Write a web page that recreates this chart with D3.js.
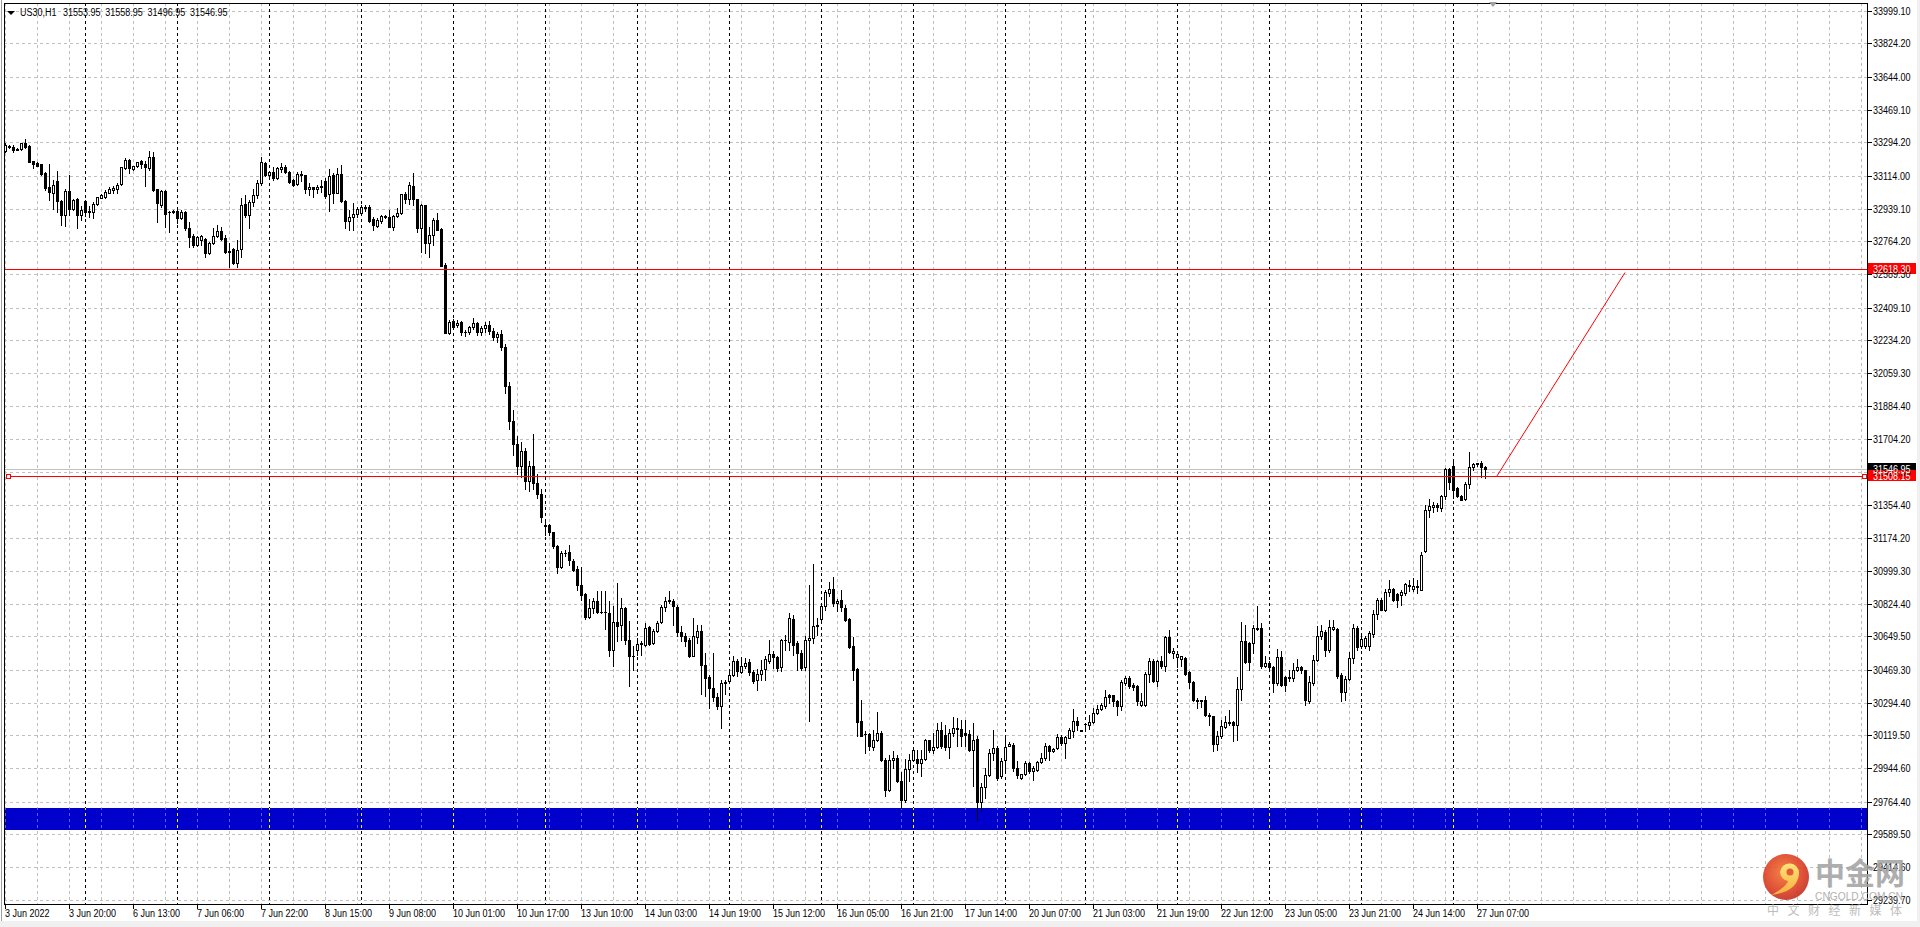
<!DOCTYPE html>
<html><head><meta charset="utf-8">
<script src="https://cdn.jsdelivr.net/npm/d3@7"></script>
<style>
html,body{margin:0;padding:0;background:#fff;overflow:hidden}
svg{display:block}
text{font-family:"Liberation Sans",Arial,sans-serif;font-size:11px}
</style></head><body>
<script>
// ---------------- DATA ----------------
const symbolTitle = "US30,H1";
const headerValues = ["31553.95","31558.95","31496.95","31546.95"];
// trading sessions: [day, first hour, last hour]
const sessions = [["3 Jun",4,23],["6 Jun",1,23],["7 Jun",1,23],["8 Jun",1,23],["9 Jun",1,23],["10 Jun",1,23],
  ["13 Jun",1,23],["14 Jun",1,23],["15 Jun",1,23],["16 Jun",1,23],["17 Jun",1,23],["20 Jun",1,20],
  ["21 Jun",1,23],["22 Jun",1,23],["23 Jun",1,23],["24 Jun",1,23],["27 Jun",1,9]];
const firstLabel = "3 Jun 2022";
const timeTickLabels = ["3 Jun 2022","3 Jun 20:00","6 Jun 13:00","7 Jun 06:00","7 Jun 22:00","8 Jun 15:00","9 Jun 08:00",
  "10 Jun 01:00","10 Jun 17:00","13 Jun 10:00","14 Jun 03:00","14 Jun 19:00","15 Jun 12:00","16 Jun 05:00","16 Jun 21:00",
  "17 Jun 14:00","20 Jun 07:00","21 Jun 03:00","21 Jun 19:00","22 Jun 12:00","23 Jun 05:00","23 Jun 21:00","24 Jun 14:00","27 Jun 07:00"];
const priceTickLabels = ["33999.10","33824.20","33644.00","33469.10","33294.20","33114.00","32939.10","32764.20","32589.30",
  "32409.10","32234.20","32059.30","31884.40","31704.20","31529.30","31354.40","31174.20","30999.30","30824.40","30649.50",
  "30469.30","30294.40","30119.50","29944.60","29764.40","29589.50","29414.60","29239.70"];

const opens = [33248,33276,33271,33257,33257,33292,33274,33194,33182,33176,
33132,33057,33021,33087,32982,32905,33034,32937,32989,32905,
32980,32929,32920,32964,32998,33003,33025,33039,33044,33069,
33155,33200,33153,33167,33194,33176,33159,33217,33043,32959,
33034,32923,32923,32927,32887,32923,32838,32793,32745,32772,
32775,32700,32754,32793,32820,32784,32709,32722,32647,32722,
32964,32905,32977,33012,33075,33182,33119,33137,33101,33151,
33160,33134,33093,33069,33126,33118,33046,33055,33043,33055,
33089,33016,33119,33025,33125,32982,32875,32893,32909,32918,
32946,32950,32882,32848,32875,32900,32893,32843,32900,32914,
33018,32989,33062,32989,32838,32957,32754,32798,32879,32830,
32638,32272,32340,32315,32331,32281,32278,32303,32326,32281,
32300,32318,32285,32250,32270,32200,31990,31800,31680,31560,
31640,31480,31560,31470,31410,31243,31243,31207,31134,31018,
31095,31100,31054,31009,30926,30877,30753,30801,30840,30780,
30779,30774,30574,30726,30708,30801,30631,30545,30574,30610,
30604,30699,30613,30676,30724,30806,30840,30836,30806,30671,
30653,30628,30546,30644,30679,30498,30430,30373,30323,30275,
30399,30412,30444,30519,30458,30492,30512,30458,30414,30449,
30474,30515,30555,30539,30483,30628,30617,30742,30613,30560,
30483,30628,30640,30706,30744,30810,30882,30902,30827,30845,
30801,30744,30596,30474,30198,30127,30127,30057,30096,30132,
29989,29825,29989,29998,29873,29775,29939,29986,29993,29971,
29993,30093,30043,30057,30150,30123,30057,30132,30159,30154,
30132,30128,30039,30100,29761,29841,29909,30025,30052,29900,
29989,30064,30070,29945,29891,29915,29971,29927,29936,29977,
29998,30061,30034,30052,30111,30079,30105,30144,30198,30146,
30180,30177,30191,30239,30260,30278,30334,30334,30301,30278,
30400,30424,30391,30385,30284,30284,30448,30519,30408,30519,
30489,30646,30560,30537,30528,30531,30457,30405,30310,30301,
30307,30230,30221,30075,30114,30164,30183,30189,30177,30369,
30626,30613,30613,30690,30696,30489,30507,30485,30400,30539,
30432,30426,30426,30471,30485,30467,30301,30400,30521,30653,
30671,30578,30688,30688,30444,30350,30421,30533,30694,30599,
30596,30599,30663,30769,30845,30792,30886,30902,30877,30872,
30881,30924,30904,30913,30899,31104,31327,31341,31352,31336,
31403,31544,31562,31443,31402,31384,31466,31555,31576,31576,
31553.95];
const highs = [33289,33280,33280,33262,33292,33310,33278,33196,33187,33178,
33134,33178,33093,33141,32986,33043,33119,32989,32998,32953,
32986,32953,32977,33003,33016,33039,33053,33060,33075,33164,
33210,33203,33167,33191,33200,33196,33248,33244,33046,33039,
33039,32929,32932,32941,32932,32929,32870,32804,32793,32798,
32781,32760,32838,32852,32843,32798,32754,32730,32772,32994,
33012,32986,33043,33093,33214,33187,33137,33164,33160,33182,
33173,33139,33096,33137,33142,33121,33075,33057,33066,33093,
33101,33150,33128,33159,33173,32986,32932,32968,32946,32959,
32959,32959,32896,32887,32905,32905,32932,32905,32941,33018,
33030,33084,33128,32992,32964,32960,32843,32887,32914,32835,
32647,32344,32347,32344,32337,32290,32312,32353,32330,32312,
32330,32335,32300,32280,32290,32215,32010,31860,31720,31690,
31660,31590,31730,31520,31440,31273,31252,31210,31140,31104,
31109,31140,31063,31024,31020,30880,30849,30854,30893,30893,
30890,30836,30810,30934,30854,30806,30729,30596,30640,30622,
30720,30706,30688,30729,30819,30858,30890,30849,30819,30703,
30667,30640,30747,30712,30712,30560,30444,30560,30346,30417,
30417,30474,30542,30528,30539,30533,30528,30471,30474,30524,
30542,30631,30569,30546,30635,30658,30774,30765,30622,30578,
30649,30926,31036,30747,30818,30899,30938,30966,30849,30899,
30818,30747,30646,30480,30310,30141,30132,30146,30243,30141,
29998,30016,30034,30016,29922,29993,30021,30052,30043,30043,
30100,30096,30132,30185,30189,30176,30154,30217,30212,30203,
30203,30150,30185,30114,29865,29945,30046,30150,30061,29998,
30114,30082,30079,29980,29915,29980,29975,29954,29980,30025,
30079,30070,30050,30128,30123,30118,30159,30260,30218,30148,
30186,30230,30266,30284,30292,30364,30342,30337,30310,30417,
30435,30439,30400,30391,30346,30457,30533,30528,30524,30546,
30653,30681,30587,30564,30546,30537,30462,30408,30319,30307,
30328,30239,30225,30141,30203,30225,30253,30194,30432,30724,
30712,30617,30712,30813,30721,30542,30515,30489,30581,30569,
30439,30471,30507,30528,30492,30471,30435,30551,30706,30712,
30685,30738,30738,30694,30453,30435,30564,30717,30703,30653,
30653,30676,30792,30854,30854,30902,30949,30908,30884,30899,
30935,30952,30961,30952,31102,31352,31384,31371,31362,31407,
31550,31550,31591,31448,31407,31473,31637,31576,31580,31587,
31558.95];
const lows = [33241,33265,33242,33253,33253,33265,33189,33155,33165,33119,
33039,32986,32939,32923,32852,32846,32905,32930,32838,32879,
32902,32896,32891,32957,32994,32994,33021,33021,33021,33066,
33151,33128,33146,33164,33155,33062,33146,33035,32870,32950,
32843,32816,32914,32861,32882,32825,32732,32732,32740,32745,
32679,32695,32750,32789,32772,32700,32629,32640,32625,32682,
32896,32834,32953,32994,33066,33115,33110,33093,33096,33137,
33132,33075,33060,33066,33089,33025,33012,33003,33021,33030,
32994,32927,32968,33021,32977,32834,32825,32825,32896,32914,
32929,32870,32822,32839,32861,32891,32839,32825,32893,32911,
32968,32964,32959,32813,32709,32704,32679,32745,32822,32633,
32272,32269,32294,32308,32260,32255,32269,32297,32264,32262,
32280,32270,32235,32225,32180,31950,31760,31620,31520,31500,
31440,31430,31440,31390,31260,31193,31193,31122,30988,31015,
31081,31033,31000,30899,30845,30742,30747,30774,30774,30774,
30688,30546,30492,30622,30628,30610,30382,30471,30551,30551,
30599,30604,30610,30672,30720,30783,30827,30712,30653,30622,
30596,30539,30542,30613,30342,30328,30266,30301,30260,30159,
30342,30399,30435,30435,30453,30480,30444,30399,30364,30417,
30417,30506,30480,30462,30462,30574,30574,30551,30467,30467,
30467,30194,30613,30658,30738,30792,30863,30810,30783,30783,
30729,30587,30414,30118,30114,30025,30043,30043,30087,29980,
29797,29820,29945,29868,29731,29761,29873,29980,29922,29900,
29989,30029,30025,30052,30052,30043,30000,30114,30061,30061,
30061,30034,29847,29668,29713,29784,29900,29989,29882,29891,
29936,30061,29927,29891,29885,29909,29920,29882,29930,29971,
29989,29989,30030,30046,30070,29998,30105,30111,30150,30142,
30141,30153,30186,30235,30257,30266,30292,30275,30230,30257,
30391,30373,30364,30284,30275,30275,30403,30403,30385,30480,
30462,30560,30533,30485,30489,30444,30373,30301,30266,30269,
30221,30173,30034,30039,30105,30159,30177,30087,30096,30310,
30507,30471,30560,30685,30480,30485,30471,30350,30391,30382,
30355,30408,30408,30462,30453,30284,30292,30391,30515,30635,
30546,30564,30685,30426,30301,30310,30417,30507,30578,30587,
30587,30578,30646,30742,30788,30783,30863,30836,30806,30819,
30872,30890,30890,30881,30895,31102,31286,31313,31318,31318,
31384,31437,31389,31398,31377,31380,31443,31541,31562,31505,
31496.95];
const closes = [33280,33267,33253,33255,33289,33267,33191,33176,33169,33123,
33048,33027,33066,32982,32905,33034,32937,32986,32905,32932,
32923,32920,32964,33000,33011,33028,33044,33050,33066,33160,
33200,33155,33167,33187,33176,33160,33217,33039,32968,33035,
32911,32923,32925,32887,32923,32834,32789,32745,32789,32793,
32700,32754,32793,32820,32777,32709,32712,32647,32718,32959,
32905,32977,33012,33075,33187,33119,33134,33101,33155,33160,
33134,33080,33066,33123,33118,33046,33057,33044,33057,33060,
33009,33114,33021,33125,32982,32875,32893,32909,32936,32946,
32941,32875,32852,32879,32900,32896,32843,32900,32914,33016,
32989,33066,32989,32838,32957,32754,32798,32879,32825,32633,
32272,32331,32308,32326,32280,32281,32303,32326,32281,32300,
32318,32285,32250,32270,32200,31990,31800,31680,31560,31640,
31480,31560,31470,31410,31290,31240,31206,31131,31018,31095,
31095,31056,31006,30926,30872,30753,30801,30840,30778,30779,
30780,30574,30726,30703,30801,30631,30542,30546,30610,30612,
30694,30610,30679,30720,30806,30840,30842,30810,30671,30649,
30622,30542,30649,30679,30498,30426,30373,30325,30275,30399,
30403,30444,30519,30462,30492,30507,30458,30408,30449,30471,
30528,30555,30539,30480,30628,30631,30747,30604,30560,30480,
30628,30640,30706,30708,30810,30885,30902,30827,30840,30804,
30738,30590,30471,30189,30118,30127,30061,30096,30132,29989,
29829,29989,29998,29873,29775,29939,29986,30043,29971,29993,
30093,30043,30057,30150,30061,30057,30132,30159,30154,30114,
30123,30039,30096,29761,29841,29909,30025,30050,29891,29980,
30057,30075,29945,29909,29915,29971,29927,29945,29977,29998,
30061,30034,30046,30111,30079,30111,30150,30198,30177,30144,
30180,30191,30239,30260,30280,30325,30325,30301,30275,30405,
30424,30382,30378,30301,30301,30449,30519,30408,30519,30489,
30646,30564,30573,30556,30542,30448,30405,30307,30301,30307,
30230,30221,30075,30118,30168,30189,30191,30177,30369,30626,
30510,30510,30694,30696,30489,30507,30485,30400,30539,30387,
30387,30432,30471,30485,30467,30307,30405,30524,30653,30676,
30578,30699,30699,30435,30350,30421,30533,30694,30590,30635,
30642,30667,30769,30845,30792,30886,30902,30845,30845,30886,
30931,30917,30920,30920,31084,31327,31345,31355,31341,31403,
31544,31473,31434,31402,31380,31466,31555,31573,31573,31555,
31546.95];

const resistanceLevel = 32618.30;         // horizontal line
const supportLevel = 31508.15;            // horizontal trend segment
const supportSpan = [0.7, 464.7];         // bar-index anchors of the segment
const bidPrice = 31546.95;
const zoneRange = [29613, 29731];         // blue rectangle
const arrowStart = [373, 31508.15];       // [bar index, price]
const arrowEnd = [405, 32597];

// ---------------- LAYOUT ----------------
const W = 1920, H = 927;
const L = 4, T = 3, R = 1867, B = 904;
const SX = 0.82; // horizontal squeeze to mimic the narrow terminal font
const svg = d3.select("body").append("svg").attr("width", W).attr("height", H);

const times = [];
const dayStarts = [];
sessions.forEach(([day, h0, h1], k) => {
  if (k > 0) dayStarts.push(times.length);
  for (let h = h0; h <= h1; h++) times.push(day + " " + String(h).padStart(2, "0") + ":00");
});

const x = d3.scaleLinear().domain([0, 465.5]).range([5, R]);
const y = d3.scaleLinear().domain([+priceTickLabels[priceTickLabels.length - 1], +priceTickLabels[0]]).range([899.7, 10.6]);
const px = i => Math.round(x(i)) + 0.5;
const py = v => Math.round(y(v)) + 0.5;
const tr = (xx, yy) => `translate(${xx},${yy}) scale(${SX},1)`;

// background & window chrome
svg.append("rect").attr("width", W).attr("height", H).attr("fill", "#fff");
svg.append("rect").attr("x", 0).attr("y", 921).attr("width", W).attr("height", 6).attr("fill", "#f0f0f0");
svg.append("rect").attr("x", 1917).attr("y", 0).attr("width", 3).attr("height", H).attr("fill", "#f0f0f0");
svg.append("line").attr("x1", 1.5).attr("x2", 1.5).attr("y1", 0).attr("y2", 921).attr("stroke", "#a0a0a0");

const crisp = svg.append("g").attr("shape-rendering", "crispEdges");
const defs = svg.append("defs");

// blue zone
const zTop = Math.round(y(zoneRange[1])), zBot = Math.round(y(zoneRange[0]));
crisp.append("rect").attr("x", L + 1).attr("y", zTop).attr("width", R - L - 1).attr("height", zBot - zTop).attr("fill", "#0000cd");

// grid
crisp.append("g").selectAll("line").data(priceTickLabels).join("line")
  .attr("x1", L).attr("x2", R).attr("y1", d => py(+d)).attr("y2", d => py(+d))
  .attr("stroke", "#c0c0c0").attr("stroke-dasharray", "3,3");

const vIdx = d3.range(0, 466, 8);
defs.append("clipPath").attr("id", "zoneClip")
  .append("rect").attr("x", L + 1).attr("y", zTop).attr("width", R - L - 1).attr("height", zBot - zTop);
function vGrid(color, sepColor, clip) {
  const g = crisp.append("g");
  if (clip) g.attr("clip-path", "url(#zoneClip)");
  g.selectAll("line.g").data(vIdx).join("line").attr("class", "g")
    .attr("x1", d => px(d)).attr("x2", d => px(d)).attr("y1", T).attr("y2", B)
    .attr("stroke", color).attr("stroke-dasharray", "3,3");
  g.selectAll("line.s").data(dayStarts).join("line").attr("class", "s")
    .attr("x1", d => px(d)).attr("x2", d => px(d)).attr("y1", T).attr("y2", B)
    .attr("stroke", sepColor).attr("stroke-dasharray", "3,3");
}
vGrid("#c0c0c0", "#000", false);
vGrid("#5a5aff", "#ffff00", true);

// bid line
crisp.append("line").attr("x1", L).attr("x2", R).attr("y1", py(bidPrice)).attr("y2", py(bidPrice)).attr("stroke", "#c0c0c0");

// candles
const bars = closes.map((c, i) => ({ i, o: opens[i], h: highs[i], l: lows[i], c }));
const cg = crisp.append("g");
cg.selectAll("line.w").data(bars).join("line").attr("class", "w")
  .attr("x1", d => px(d.i)).attr("x2", d => px(d.i))
  .attr("y1", d => Math.round(y(d.h))).attr("y2", d => Math.round(y(d.l)) + 1)
  .attr("stroke", "#000");
const bodyTop = d => Math.round(y(Math.max(d.o, d.c)));
const bodyBot = d => Math.round(y(Math.min(d.o, d.c)));
cg.selectAll("rect.b").data(bars.filter(d => bodyBot(d) - bodyTop(d) >= 1)).join("rect").attr("class", "b")
  .attr("x", d => px(d.i) - 1).attr("y", d => bodyTop(d) + 0.5)
  .attr("width", 2).attr("height", d => bodyBot(d) - bodyTop(d))
  .attr("fill", d => d.c >= d.o ? "#fff" : "#000").attr("stroke", "#000");
cg.selectAll("line.d").data(bars.filter(d => bodyBot(d) - bodyTop(d) < 1)).join("line").attr("class", "d")
  .attr("x1", d => px(d.i) - 1.5).attr("x2", d => px(d.i) + 1.5)
  .attr("y1", d => bodyTop(d) + 0.5).attr("y2", d => bodyTop(d) + 0.5).attr("stroke", "#000");

// red objects
crisp.append("line").attr("x1", L).attr("x2", R).attr("y1", py(resistanceLevel)).attr("y2", py(resistanceLevel)).attr("stroke", "#ff0000");
crisp.append("line").attr("x1", x(supportSpan[0])).attr("x2", x(supportSpan[1]))
  .attr("y1", py(supportLevel)).attr("y2", py(supportLevel)).attr("stroke", "#ff0000");
crisp.selectAll("rect.m").data(supportSpan).join("rect").attr("class", "m")
  .attr("x", d => Math.round(x(d)) - 1.5).attr("y", py(supportLevel) - 2)
  .attr("width", 4).attr("height", 4).attr("fill", "#fff").attr("stroke", "#ff0000");
svg.append("line").attr("x1", x(arrowStart[0])).attr("y1", y(arrowStart[1]))
  .attr("x2", x(arrowEnd[0])).attr("y2", y(arrowEnd[1])).attr("stroke", "#ff0000").attr("stroke-width", 1);

// frame
const fr = crisp.append("g").attr("stroke", "#000");
fr.append("line").attr("x1", L + 0.5).attr("x2", L + 0.5).attr("y1", T).attr("y2", B + 1);
fr.append("line").attr("x1", L).attr("x2", R + 1).attr("y1", T + 0.5).attr("y2", T + 0.5);
fr.append("line").attr("x1", L).attr("x2", R + 1).attr("y1", B + 0.5).attr("y2", B + 0.5);
fr.append("line").attr("x1", R + 0.5).attr("x2", R + 0.5).attr("y1", T).attr("y2", B + 1);

// time axis
const tIndex = lab => lab === firstLabel ? 0 : times.indexOf(lab);
crisp.append("g").selectAll("line").data(timeTickLabels).join("line")
  .attr("x1", d => px(tIndex(d))).attr("x2", d => px(tIndex(d))).attr("y1", B + 1).attr("y2", B + 5).attr("stroke", "#000");
svg.append("g").selectAll("text").data(timeTickLabels).join("text")
  .attr("transform", d => tr(Math.round(x(tIndex(d))), 917)).attr("fill", "#000").text(d => d);

// price axis
crisp.append("g").selectAll("line").data(priceTickLabels).join("line")
  .attr("x1", R + 1).attr("x2", R + 5).attr("y1", d => py(+d)).attr("y2", d => py(+d)).attr("stroke", "#000");
svg.append("g").selectAll("text").data(priceTickLabels).join("text")
  .attr("transform", d => tr(1873, Math.round(y(+d)) + 4)).attr("fill", "#000").text(d => d);

// price boxes
function priceBox(v, bg, label) {
  const yy = Math.round(y(v));
  crisp.append("rect").attr("x", R + 1).attr("y", yy - 6).attr("width", 48).attr("height", 11).attr("fill", bg);
  svg.append("text").attr("transform", tr(1873, yy + 4)).attr("fill", "#fff").text(label);
}
priceBox(bidPrice, "#000", headerValues[3]);
priceBox(resistanceLevel, "#ff0000", resistanceLevel.toFixed(2));
priceBox(supportLevel, "#ff0000", supportLevel.toFixed(2));

// header
svg.append("polygon").attr("points", "7,11 15,11 11,15").attr("fill", "#000");
svg.append("text").attr("transform", tr(20, 16)).text(symbolTitle);
svg.append("g").selectAll("text").data(headerValues).join("text")
  .attr("transform", (d, k) => tr(63 + k * 42.3, 16)).text(d => d);

// chart shift marker
svg.append("polygon").attr("points", "1489,2 1497,2 1493,7").attr("fill", "#a0a0a0");

// watermark logo
const rg = defs.append("radialGradient").attr("id", "lg").attr("cx", "45%").attr("cy", "40%").attr("r", "60%");
rg.append("stop").attr("offset", "0%").attr("stop-color", "#f2722b");
rg.append("stop").attr("offset", "70%").attr("stop-color", "#dc3a1f");
rg.append("stop").attr("offset", "100%").attr("stop-color", "#c22a1a");
const yg = defs.append("linearGradient").attr("id", "yg").attr("x1", "0").attr("y1", "0").attr("x2", "0").attr("y2", "1");
yg.append("stop").attr("offset", "0%").attr("stop-color", "#ffe066");
yg.append("stop").attr("offset", "100%").attr("stop-color", "#f5a623");
const logo = svg.append("g").attr("opacity", 0.88);
logo.append("circle").attr("cx", 1786).attr("cy", 877).attr("r", 23).attr("fill", "url(#lg)");
logo.append("path").attr("d", "M1780,872 a9.5,9.5 0 1,1 19,2 C1798,886 1788,893 1771,895 C1783,889 1787,884 1788,881 a9.5,9.5 0 0,1 -8,-9 z").attr("fill", "url(#yg)");
logo.append("circle").attr("cx", 1790).attr("cy", 872).attr("r", 3.5).attr("fill", "#e0441f");
logo.append("text").attr("x", 1815).attr("y", 884).style("font-family", "'Noto Sans CJK SC'").style("font-size", "30px")
  .style("font-weight", "bold").attr("fill", "#a3a3a3").text("中金网");
logo.append("text").attr("x", 1815).attr("y", 900).style("font-family", "'Liberation Sans'").style("font-size", "10.5px")
  .attr("textLength", 88).attr("lengthAdjust", "spacingAndGlyphs").attr("fill", "#a8a8a8").text("CNGOLD.COM.CN");
logo.append("text").attr("x", 1767).attr("y", 915).style("font-family", "'Noto Sans CJK SC'").style("font-size", "12px")
  .attr("textLength", 135).attr("lengthAdjust", "spacing").attr("fill", "#b5b5b5").text("中文财经新媒体");
</script>
</body></html>
